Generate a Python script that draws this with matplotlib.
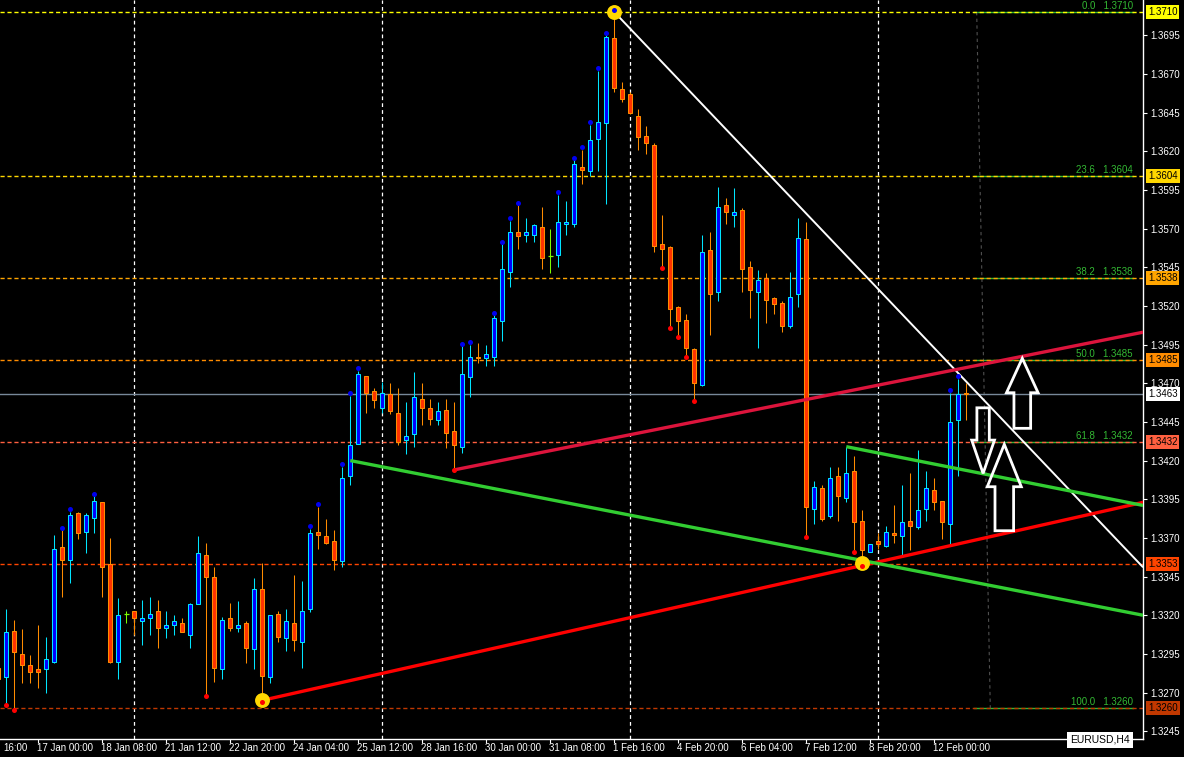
"""EURUSD H4 : bougies + fractales, canaux tracés à la main, retracement de Fibonacci."""
import numpy as np
import matplotlib
matplotlib.use("Agg")
import matplotlib.pyplot as plt
from matplotlib.patches import Rectangle, Polygon
from matplotlib.transforms import blended_transform_factory

plt.rcParams['font.family'] = ['Liberation Sans', 'DejaVu Sans']

# --- données (barre -1 = bougie coupée au bord gauche) ---
first_bar = -1
opens = [1.3286, 1.3280, 1.3310, 1.3295, 1.3288, 1.3285, 1.3285, 1.3290, 1.3364, 1.3356,
         1.3386, 1.3374, 1.3383, 1.3393, 1.3353, 1.3290, 1.3321, 1.3323, 1.3316, 1.3318,
         1.3323, 1.3312, 1.3314, 1.3315, 1.3307, 1.3327, 1.3359, 1.3345, 1.3285, 1.3318,
         1.3312, 1.3315, 1.3298, 1.3337, 1.3280, 1.3321, 1.3305, 1.3315, 1.3303, 1.3324,
         1.3374, 1.3371, 1.3368, 1.3355, 1.3410, 1.3431, 1.3475, 1.3465, 1.3454, 1.3463,
         1.3451, 1.3433, 1.3437, 1.3460, 1.3454, 1.3446, 1.3453, 1.3439, 1.3429, 1.3474,
         1.3487, 1.3486, 1.3487, 1.3510, 1.3542, 1.3568, 1.3566, 1.3566, 1.3571, 1.3552,
         1.3553, 1.3573, 1.3573, 1.3610, 1.3607, 1.3628, 1.3638, 1.3693, 1.3660, 1.3657,
         1.3643, 1.3630, 1.3624, 1.3560, 1.3558, 1.3519, 1.3511, 1.3492, 1.3469, 1.3556,
         1.3529, 1.3585, 1.3579, 1.3582, 1.3545, 1.3529, 1.3538, 1.3525, 1.3522, 1.3507,
         1.3528, 1.3563, 1.3389, 1.3402, 1.3384, 1.3410, 1.3396, 1.3413, 1.3381, 1.3361,
         1.3368, 1.3365, 1.3373, 1.3371, 1.3381, 1.3377, 1.3389, 1.3401, 1.3394, 1.3379,
         1.3446, 1.3464]
highs = [1.3295, 1.3324, 1.3317, 1.3311, 1.3294, 1.3314, 1.3306, 1.3372, 1.3375, 1.3387,
         1.3387, 1.3386, 1.3397, 1.3393, 1.3370, 1.3331, 1.3323, 1.3323, 1.3330, 1.3332,
         1.3330, 1.3323, 1.3320, 1.3318, 1.3328, 1.3371, 1.3367, 1.3351, 1.3319, 1.3328,
         1.3329, 1.3316, 1.3344, 1.3354, 1.3320, 1.3323, 1.3324, 1.3346, 1.3342, 1.3376,
         1.3390, 1.3382, 1.3375, 1.3416, 1.3462, 1.3478, 1.3475, 1.3467, 1.3471, 1.3470,
         1.3467, 1.3458, 1.3477, 1.3470, 1.3460, 1.3458, 1.3460, 1.3458, 1.3494, 1.3495,
         1.3496, 1.3495, 1.3514, 1.3560, 1.3575, 1.3585, 1.3577, 1.3573, 1.3584, 1.3570,
         1.3592, 1.3588, 1.3614, 1.3621, 1.3637, 1.3672, 1.3695, 1.3710, 1.3665, 1.3658,
         1.3647, 1.3636, 1.3625, 1.3579, 1.3559, 1.3520, 1.3515, 1.3493, 1.3566, 1.3568,
         1.3597, 1.3590, 1.3596, 1.3583, 1.3549, 1.3543, 1.3541, 1.3526, 1.3523, 1.3542,
         1.3577, 1.3574, 1.3407, 1.3404, 1.3416, 1.3416, 1.3429, 1.3423, 1.3388, 1.3366,
         1.3373, 1.3378, 1.3391, 1.3404, 1.3412, 1.3427, 1.3413, 1.3409, 1.3394, 1.3464,
         1.3473, 1.3470]
lows = [1.3270, 1.3263, 1.3260, 1.3276, 1.3276, 1.3273, 1.3270, 1.3289, 1.3332, 1.3341,
        1.3369, 1.3360, 1.3373, 1.3332, 1.3289, 1.3279, 1.3315, 1.3307, 1.3301, 1.3307,
        1.3299, 1.3305, 1.3307, 1.3309, 1.3299, 1.3327, 1.3269, 1.3277, 1.3279, 1.3310,
        1.3309, 1.3289, 1.3285, 1.3265, 1.3276, 1.3303, 1.3297, 1.3297, 1.3286, 1.3322,
        1.3363, 1.3366, 1.3349, 1.3351, 1.3404, 1.3431, 1.3451, 1.3454, 1.3451, 1.3450,
        1.3430, 1.3424, 1.3429, 1.3443, 1.3443, 1.3443, 1.3428, 1.3415, 1.3425, 1.3461,
        1.3483, 1.3481, 1.3481, 1.3497, 1.3532, 1.3557, 1.3561, 1.3561, 1.3544, 1.3541,
        1.3545, 1.3566, 1.3571, 1.3599, 1.3604, 1.3607, 1.3586, 1.3658, 1.3652, 1.3644,
        1.3621, 1.3618, 1.3555, 1.3546, 1.3507, 1.3501, 1.3488, 1.3460, 1.3468, 1.3501,
        1.3523, 1.3573, 1.3571, 1.3529, 1.3512, 1.3493, 1.3509, 1.3515, 1.3503, 1.3506,
        1.3519, 1.3372, 1.3379, 1.3381, 1.3383, 1.3381, 1.3393, 1.3362, 1.3353, 1.3361,
        1.3363, 1.3364, 1.3367, 1.3359, 1.3362, 1.3376, 1.3381, 1.3388, 1.3369, 1.3366,
        1.3410, 1.3446]
closes = [1.3279, 1.3309, 1.3296, 1.3288, 1.3283, 1.3283, 1.3292, 1.3363, 1.3356, 1.3385,
          1.3373, 1.3385, 1.3394, 1.3351, 1.3290, 1.3320, 1.3321, 1.3318, 1.3318, 1.3321,
          1.3312, 1.3314, 1.3316, 1.3309, 1.3327, 1.3360, 1.3345, 1.3286, 1.3317, 1.3312,
          1.3314, 1.3299, 1.3337, 1.3281, 1.3320, 1.3306, 1.3316, 1.3304, 1.3323, 1.3373,
          1.3372, 1.3367, 1.3356, 1.3409, 1.3430, 1.3476, 1.3464, 1.3459, 1.3464, 1.3452,
          1.3432, 1.3436, 1.3461, 1.3454, 1.3447, 1.3452, 1.3438, 1.3430, 1.3476, 1.3487,
          1.3486, 1.3489, 1.3512, 1.3544, 1.3568, 1.3565, 1.3568, 1.3572, 1.3551, 1.3552,
          1.3574, 1.3574, 1.3612, 1.3608, 1.3627, 1.3639, 1.3694, 1.3661, 1.3654, 1.3645,
          1.3629, 1.3625, 1.3559, 1.3557, 1.3518, 1.3510, 1.3493, 1.3470, 1.3555, 1.3528,
          1.3584, 1.3581, 1.3581, 1.3544, 1.3530, 1.3537, 1.3524, 1.3521, 1.3507, 1.3526,
          1.3564, 1.3390, 1.3403, 1.3382, 1.3409, 1.3397, 1.3412, 1.3380, 1.3362, 1.3366,
          1.3366, 1.3374, 1.3372, 1.3380, 1.3378, 1.3388, 1.3402, 1.3393, 1.3380, 1.3445,
          1.3463, 1.3463]
doji_bars = [15, 68]

up_marks = [7, 8, 11, 38, 39, 42, 43, 44, 57, 58, 61, 62, 63, 64, 69, 71, 72, 73, 74, 75,
            76, 118, 119]
down_marks = [0, 1, 25, 32, 56, 82, 83, 84, 85, 86, 100, 106, 107]
pivot_bars = [32, 76, 107]
pivot_prices = [1.3265, 1.3710, 1.3354]

week_separators = [16, 47, 78, 109]
time_ticks = [-4, 4, 12, 20, 28, 36, 44, 52, 60, 68, 76, 84, 92, 100, 108, 116]
# la première étiquette est coupée par le bord gauche : seule l'heure est visible
time_labels = ["16:00", "17 Jan 00:00", "18 Jan 08:00", "21 Jan 12:00",
               "22 Jan 20:00", "24 Jan 04:00", "25 Jan 12:00", "28 Jan 16:00",
               "30 Jan 00:00", "31 Jan 08:00", "1 Feb 16:00", "4 Feb 20:00",
               "6 Feb 04:00", "7 Feb 12:00", "8 Feb 20:00", "12 Feb 00:00"]
price_ticks = [1.3245, 1.3270, 1.3295, 1.3320, 1.3345, 1.3370, 1.3395, 1.3420, 1.3445,
               1.3470, 1.3495, 1.3520, 1.3545, 1.3570, 1.3595, 1.3620, 1.3645, 1.3670,
               1.3695]

hline_prices = [1.3710, 1.3604, 1.3538, 1.3485, 1.3432, 1.3353, 1.3260]
hline_colors = ['#FFFF00', '#FFD700', '#FFA500', '#FF8C00', '#FF6040', '#FF4500', '#C03800']
bid_price = 1.3463

fib_ratios = ["0.0", "23.6", "38.2", "50.0", "61.8", "100.0"]
fib_prices = [1.3710, 1.3604, 1.3538, 1.3485, 1.3432, 1.3260]
fib_start, fib_end = 121.0, 140.8
fib_anchor_bars = [121.3, 123.0]
fib_anchor_prices = [1.3710, 1.3260]

# lignes de tendance : (barre début, prix début, barre fin, prix fin)
white_line = (76, 1.3710, 142.1, 1.3351)
crimson_line = (56, 1.3414, 142.1, 1.3503)
red_line = (32, 1.3265, 142.1, 1.3393)
green_long = (43, 1.3420, 142.1, 1.3320)
green_short = (105, 1.3429, 142.1, 1.3391)

# flèches : barre de la pointe, prix de la pointe, sens
arrow_bars = [127.0, 122.1, 124.75]
arrow_prices = [1.34861, 1.34117, 1.34305]
arrow_dirs = [1, -1, 1]

BULL_FACE, BULL_EDGE = '#0000FF', '#00E5FF'
BEAR_FACE, BEAR_EDGE = '#FF3300', '#FF8C00'
GREEN_FIB = '#33B833'

# --- figure ---
W, H = 1184, 757
AX_W, AX_H = 1143, 739
fig = plt.figure(figsize=(W / 100, H / 100), dpi=100, facecolor='black')
ax = fig.add_axes([0, (H - AX_H) / H, AX_W / W, AX_H / H], facecolor='black')
x0, x1 = -0.7875, 142.0875
y0, y1 = 1.32400, 1.371776
px_x = (x1 - x0) / AX_W
px_y = (y1 - y0) / AX_H

for side in ('top', 'left'):
    ax.spines[side].set_visible(False)
for side in ('right', 'bottom'):
    ax.spines[side].set_color('white')
    ax.spines[side].set_linewidth(1.0)

# niveaux horizontaux, fibo, séparateurs
for p in fib_prices:
    ax.plot([fib_start, fib_end], [p, p], color=GREEN_FIB, lw=1.0, zorder=1)
for p, c in zip(hline_prices, hline_colors):
    ax.axhline(p, color=c, lw=1.0, ls=(0, (3, 2)), zorder=1.2)
ax.axhline(bid_price, color='#778899', lw=1.0, zorder=1.2)
for b in week_separators:
    ax.axvline(b, color='white', lw=0.9, ls=(0, (3, 2.5)), zorder=1.1)
ax.plot(fib_anchor_bars, fib_anchor_prices, color='#505050', lw=0.8, ls=(0, (3, 3)), zorder=1.1)

for r, p in zip(fib_ratios, fib_prices):
    ax.text(fib_end, p + 0.6 * px_y, f"{r}   {p:.4f}", ha='right', va='bottom',
            color=GREEN_FIB, fontsize=7, zorder=2)

# bougies
bars = np.arange(first_bar, first_bar + len(opens))
body_w = 0.48
for b, o, h, l, c in zip(bars, opens, highs, lows, closes):
    if b in doji_bars:
        ax.vlines(b, l, h, color='#7CFC00', lw=0.75, zorder=3)
        ax.hlines(c, b - body_w / 2 - 0.05, b + body_w / 2 + 0.05, color='#7CFC00', lw=0.9, zorder=3)
        continue
    bull = c >= o
    edge = BULL_EDGE if bull else BEAR_EDGE
    face = BULL_FACE if bull else BEAR_FACE
    ax.vlines(b, l, h, color=edge, lw=0.75, zorder=3)
    ax.add_patch(Rectangle((b - body_w / 2, min(o, c)), body_w, max(abs(c - o), 0.3 * px_y),
                           facecolor=face, edgecolor=edge, lw=0.75, zorder=3.1))

# lignes de tendance
for (bx0, p0, bx1, p1), col, lw in [(white_line, 'white', 1.4),
                                    (crimson_line, '#DC143C', 2.4),
                                    (red_line, '#FF0000', 2.4),
                                    (green_long, '#32CD32', 2.4),
                                    (green_short, '#32CD32', 2.4)]:
    ax.plot([bx0, bx1], [p0, p1], color=col, lw=lw, solid_capstyle='butt', zorder=4)

# pivots + fractales
ax.scatter(pivot_bars, pivot_prices, s=115, color='#FFD700', zorder=5, linewidths=0)
idx = {b: i for i, b in enumerate(bars)}
ax.scatter(up_marks, [highs[idx[b]] + 2.5 * px_y for b in up_marks], s=13,
           color='#0000EE', zorder=6, linewidths=0)
ax.scatter(down_marks, [lows[idx[b]] - 2.0 * px_y for b in down_marks], s=13,
           color='#FF0000', zorder=6, linewidths=0)

# flèches (contour blanc)
arrow_geom = [(15.8, 8.35, 34.4, 70.0), (11.4, 6.2, 33.3, 65.6), (17.0, 9.3, 42.4, 86.4)]
for bx, p, d, (hh, sh, hl, tl) in zip(arrow_bars, arrow_prices, arrow_dirs, arrow_geom):
    base = p - d * hl * px_y
    end = p - d * tl * px_y
    verts = [(bx, p), (bx + hh * px_x, base), (bx + sh * px_x, base), (bx + sh * px_x, end),
             (bx - sh * px_x, end), (bx - sh * px_x, base), (bx - hh * px_x, base)]
    ax.add_patch(Polygon(verts, closed=True, fill=False, edgecolor='white', lw=2.0,
                         joinstyle='miter', zorder=7))

# axe des prix
ax.yaxis.tick_right()
ax.set_yticks(price_ticks)
ax.set_yticklabels([f"{p:.4f}" for p in price_ticks])
ax.tick_params(axis='y', colors='white', direction='out', length=3, width=0.8,
               labelsize=7, pad=2.5)

# axe du temps
ax.set_xticks(time_ticks)
ax.set_xticklabels([])
ax.tick_params(axis='x', colors='white', direction='out', length=3, width=0.8)

# limites fixées après les ticks (set_xticks élargit la vue sinon)
ax.set_xlim(x0, x1)
ax.set_ylim(y0, y1)

yt = blended_transform_factory(ax.transAxes, ax.transData)
for p, c in zip(hline_prices, hline_colors):
    ax.text(1 + 5 / AX_W, p, f"{p:.4f}", transform=yt, ha='left', va='center',
            fontsize=7, color='black', zorder=10, clip_on=False,
            bbox=dict(boxstyle='square,pad=0.2', fc=c, ec='none'))
ax.text(1 + 5 / AX_W, bid_price, f"{bid_price:.4f}", transform=yt, ha='left', va='center',
        fontsize=7, color='black', zorder=10, clip_on=False,
        bbox=dict(boxstyle='square,pad=0.2', fc='white', ec='none'))

xt = blended_transform_factory(ax.transData, ax.transAxes)
for t, lab in zip(time_ticks, time_labels):
    xpos = max(t - 1 * px_x, x0 + 3 * px_x)
    ax.text(xpos, -4 / AX_H, lab, transform=xt, ha='left', va='top',
            fontsize=7, color='white', clip_on=False)

ax.text(1100 / AX_W, -1 / AX_H, "EURUSD,H4", transform=ax.transAxes, ha='center',
        va='center', fontsize=7.5, color='black', zorder=11, clip_on=False,
        bbox=dict(boxstyle='square,pad=0.3', fc='white', ec='none'))

fig.savefig("out.png", dpi=100, facecolor='black')
